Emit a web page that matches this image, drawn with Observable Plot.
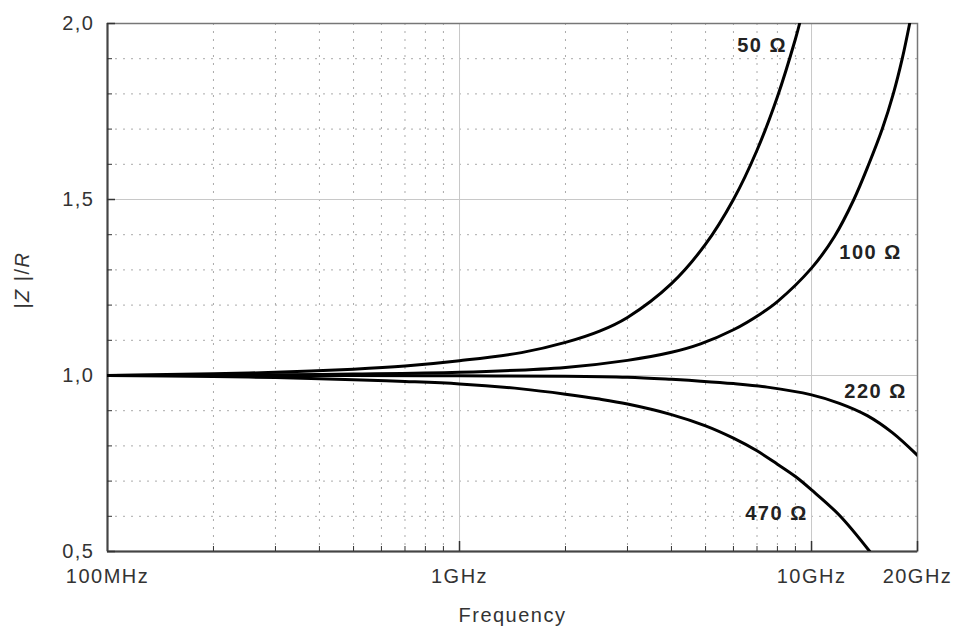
<!DOCTYPE html>
<html><head><meta charset="utf-8">
<script src="https://cdn.jsdelivr.net/npm/d3@7"></script>
<script src="https://cdn.jsdelivr.net/npm/@observablehq/plot@0.6"></script>
<style>
body{margin:0;background:#fff;}
#chart svg{display:block;}
#chart svg text{letter-spacing:1.5px;}
</style></head><body><div id="chart"></div>
<script>
// ---- data (frequency in GHz, |Z|/R) ----
const xTicksMajor = [0.1, 1, 10, 20];
const xTickLabels = ["100MHz", "1GHz", "10GHz", "20GHz"];
const xGridMajor = [1, 10];
const xGridMinor = [0.2, 0.3, 0.4, 0.5, 0.6, 0.7, 0.8, 0.9, 2, 3, 4, 5, 6, 7, 8, 9];
const yTicksMajor = [0.5, 1.0, 1.5, 2.0];
const yGridMajor = [1.0, 1.5];
const yGridMinor = [0.6, 0.7, 0.8, 0.9, 1.1, 1.2, 1.3, 1.4, 1.6, 1.7, 1.8, 1.9];

const seriesNames = ["50 Ω", "100 Ω", "220 Ω", "470 Ω"];

const freq50 = [0.1, 0.2, 0.3, 0.5, 0.7, 1, 1.5, 2, 2.5, 3, 4, 5, 6, 7, 8, 9, 9.25];
const z50    = [1.0, 1.005, 1.009, 1.018, 1.027, 1.042, 1.065, 1.094, 1.126, 1.165, 1.261, 1.373, 1.5, 1.64, 1.792, 1.956, 2.0];

const freq100 = [0.1, 0.3, 0.5, 1, 2, 3, 4, 4.84, 6, 7.16, 8, 10, 11.62, 13.19, 14.54, 15.88, 17.07, 18.1, 19.0];
const z100    = [1.0, 1.002, 1.004, 1.009, 1.023, 1.043, 1.066, 1.09, 1.13, 1.175, 1.21, 1.305, 1.395, 1.5, 1.6, 1.7, 1.8, 1.9, 2.0];

const freq220 = [0.1, 0.5, 1, 2, 3, 4, 4.84, 6, 7.48, 10, 12, 14.4, 17, 20];
const z220    = [1.0, 1.0, 0.999, 0.998, 0.995, 0.989, 0.984, 0.977, 0.967, 0.945, 0.921, 0.886, 0.837, 0.773];

const freq470 = [0.1, 0.2, 0.3, 0.5, 0.7, 1, 1.5, 2, 2.5, 3, 4, 5, 6, 7, 8, 9, 10, 12, 14.64];
const z470    = [1.0, 0.997, 0.994, 0.988, 0.983, 0.976, 0.962, 0.947, 0.933, 0.919, 0.889, 0.857, 0.822, 0.786, 0.748, 0.713, 0.675, 0.603, 0.5];

const labelFreq = [7.24, 14.71, 15.2, 7.95];
const labelZ    = [1.9375, 1.349, 0.9545, 0.608];

const yTitle = "|Z |/R";
const yTitlePos = 1.19;

// ---- table built from arrays ----
const seriesF = [freq50, freq100, freq220, freq470];
const seriesZ = [z50, z100, z220, z470];
const rows = seriesNames.flatMap((name, s) => seriesF[s].map((f, i) => ({series: name, f, z: seriesZ[s][i]})));
const labels = seriesNames.map((name, i) => ({name, f: labelFreq[i], z: labelZ[i]}));

const W = 961, H = 633, ML = 107, MR = 44, MT = 23, MB = 82;
const PW = W - ML - MR, PH = H - MT - MB;

const chart = Plot.plot({
  width: W, height: H,
  marginLeft: ML, marginRight: MR, marginTop: MT, marginBottom: MB,
  style: {fontFamily: "'Liberation Sans', Arial, sans-serif", fontSize: "20px", color: "#333", background: "#fff", overflow: "visible"},
  x: {type: "log", domain: [0.1, 20]},
  y: {domain: [0.5, 2]},
  marks: [
    Plot.ruleX(xGridMinor, {stroke: "#aaa", strokeDasharray: "2,6"}),
    Plot.ruleY(yGridMinor, {stroke: "#aaa", strokeDasharray: "2,6"}),
    Plot.ruleX(xGridMajor, {stroke: "#c8c8c8"}),
    Plot.ruleY(yGridMajor, {stroke: "#c8c8c8"}),
    Plot.frame({stroke: "#777", strokeWidth: 1.5}),
    Plot.ruleX([0.1], {stroke: "#444", strokeWidth: 2}),
    Plot.ruleY([0.5], {stroke: "#444", strokeWidth: 2}),
    Plot.tickX(xGridMinor, {x: d => d, stroke: "#333", insetTop: PH - 5}),
    Plot.tickX(xTicksMajor.slice(1), {x: d => d, stroke: "#333", strokeWidth: 1.5, insetTop: PH - 10}),
    Plot.tickY(yGridMinor, {y: d => d, stroke: "#333", insetRight: PW - 5}),
    Plot.tickY(yTicksMajor, {y: d => d, stroke: "#333", strokeWidth: 1.5, insetRight: PW - 8}),
    Plot.line(rows, {x: "f", y: "z", z: "series", stroke: "#000", strokeWidth: 3, curve: "catmull-rom", clip: true}),
    Plot.text(labels, {x: "f", y: "z", text: "name", fontWeight: "bold", fontSize: 20, fill: "#222"}),
    Plot.axisX(xTicksMajor, {tickFormat: d => xTickLabels[xTicksMajor.indexOf(d)], tickSize: 0, tickPadding: 17, fontSize: 20, label: null}),
    Plot.axisY(yTicksMajor, {tickFormat: d => d.toFixed(1).replace(".", ","), tickSize: 0, tickPadding: 13, fontSize: 20, label: null}),
    Plot.text(["Frequency"], {frameAnchor: "bottom", dy: 70, fontSize: 20, fill: "#333"}),
    Plot.text([{t: yTitle, v: yTitlePos}], {y: "v", text: "t", frameAnchor: "left", dx: -85, rotate: -90, fontSize: 20, fill: "#333"})
  ]
});
document.getElementById("chart").appendChild(chart);

// italicise Z and R in the y-axis title (kept as real text)
chart.querySelectorAll("text").forEach(t => {
  if (t.textContent === yTitle) {
    const parts = [["|", false], ["Z", true], [" |/", false], ["R", true]];
    t.textContent = "";
    for (const [s, it] of parts) {
      const ts = document.createElementNS("http://www.w3.org/2000/svg", "tspan");
      ts.textContent = s;
      if (it) ts.setAttribute("font-style", "italic");
      t.appendChild(ts);
    }
  }
});
</script></body></html>
